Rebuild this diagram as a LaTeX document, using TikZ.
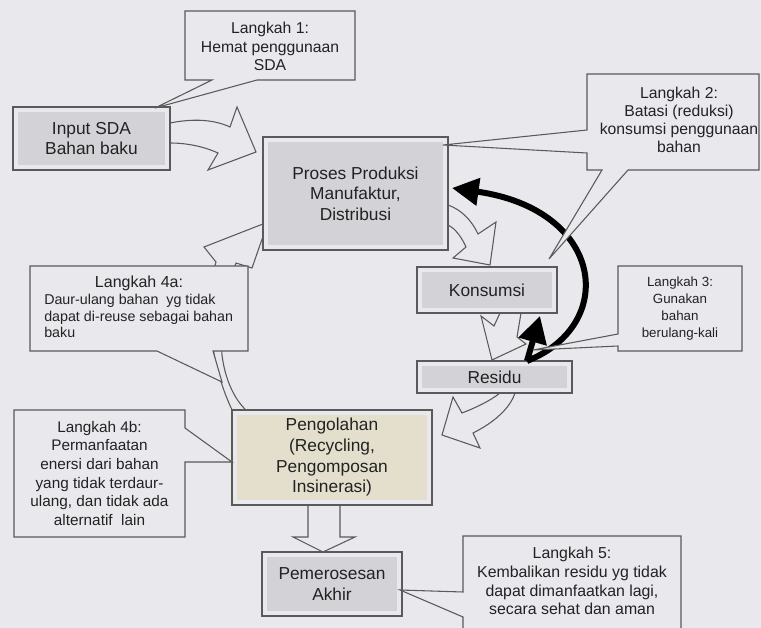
\documentclass[tikz,border=0pt]{standalone}
\usepackage{fontspec}
\setmainfont{Liberation Sans}
\usetikzlibrary{arrows.meta}
\definecolor{bg}{HTML}{E9E9ED}
\definecolor{edge}{HTML}{5A5A5A}
\definecolor{txt}{HTML}{222222}
\definecolor{boxin}{HTML}{D3D3D7}
\definecolor{pengin}{HTML}{E3DFCC}
\tikzset{
  mainbox/.style={draw=edge, line width=0.9pt, fill=bg, inner sep=0pt, align=center,
    text=txt, font=\fontsize{13}{15.5}\selectfont,
    path picture={\fill[#1] ([shift={(4pt,4pt)}]path picture bounding box.south west)
      rectangle ([shift={(-4pt,-4pt)}]path picture bounding box.north east);}},
  mainbox/.default=boxin,
  callout/.style={draw=edge, line width=0.8pt, fill=bg, line join=miter},
  ctext/.style={align=center, text=txt, inner sep=0pt},
  hollow/.style={draw=edge, line width=0.8pt, fill=bg, line join=miter},
  blackarrow/.style={line width=4.5pt, draw=black},
}
\begin{document}
\begin{tikzpicture}[x=0.75pt,y=-0.75pt]
\path[use as bounding box] (0,0) rectangle (761,628);
\clip (0,0) rectangle (761,628);
\fill[bg] (0,0) rectangle (761,628);

% hollow circular arrows
\draw[hollow] (170,123) .. controls (195,118) and (215,120) .. (230,127) -- (237,107) -- (256,152)
  -- (208,170) -- (218,153) .. controls (205,147) and (188,143) .. (170,143) -- cycle;
\draw[hollow] (448,205) .. controls (462,210) and (472,221) .. (478,234) -- (496,222) -- (490,265)
  -- (453,258) -- (466,247) .. controls (462,238) and (456,229) .. (448,225) -- cycle;
\draw[hollow] (500,313) -- (494,326) -- (481,316) -- (492,360) -- (526,344) -- (517,337) -- (521,313) -- cycle;
\draw[hollow] (500,393) .. controls (490,401) and (475,408) .. (462,413) -- (453,397) -- (442,435)
  -- (480,448) -- (473,433) .. controls (495,422) and (510,408) .. (515,393) -- cycle;
\draw[hollow] (233,412) .. controls (220,385) and (210,350) .. (210,310) .. controls (210,290) and (212,275) .. (216,262)
  -- (204,247) -- (268,222) -- (252,268) -- (236,263) .. controls (226,290) and (220,320) .. (222,355)
  .. controls (225,380) and (235,400) .. (246,410) -- cycle;
% block arrow down
\draw[hollow] (308,503) -- (308,537) -- (293,537) -- (323,552) -- (355,537) -- (340,537) -- (340,503);

% main boxes
\node[mainbox, minimum width=117.75pt, minimum height=47.25pt] (input) at (91.5,138.5) {Input SDA\\Bahan baku};
\node[mainbox, minimum width=138.75pt, minimum height=84.75pt] (proses) at (355.5,193.5) {Proses Produksi\\Manufaktur,\\Distribusi};
\node[mainbox, minimum width=105pt, minimum height=34.5pt] (konsumsi) at (487,290) {Konsumsi};
\node[mainbox, minimum width=116.25pt, minimum height=24pt] (residu) at (494.5,377) {Residu};
\node[mainbox=pengin, minimum width=150pt, minimum height=71.25pt] (pengolahan) at (332,457.5) {Pengolahan\\(Recycling,\\Pengomposan\\Insinerasi)};
\node[mainbox, minimum width=105pt, minimum height=48pt] (akhir) at (332,584) {Pemerosesan\\Akhir};

% black arrows
\coordinate (bstart) at (527,361);
\coordinate (btip) at (452,188);
\coordinate (ktip) at (540,316);
\draw[blackarrow, -{Triangle[length=20pt,width=20pt]}] (bstart) .. controls (618,325) and (605,210) .. (btip);
\draw[blackarrow, -{Triangle[length=20pt,width=21pt]}] (bstart) -- (ktip);

% callouts
\draw[callout] (185,11) -- (355,11) -- (355,80) -- (257,80) -- (155,108) -- (212,80) -- (185,80) -- cycle;
\draw[callout] (587,74) -- (759,74) -- (759,170) -- (628,170) -- (549,259) -- (602,170) -- (587,170)
  -- (587,153) -- (443,145) -- (587,130) -- cycle;
\draw[callout] (618,266) -- (742,266) -- (742,351) -- (618,351) -- (618,346) -- (533,350) -- (618,334) -- cycle;
\draw[callout] (30,266) -- (248,266) -- (248,351) -- (213,351) -- (222,382) -- (157,351) -- (30,351) -- cycle;
\draw[callout] (14,410) -- (185,410) -- (185,428) -- (232,462) -- (185,462) -- (185,537) -- (14,537) -- cycle;
\draw[callout] (463,536) -- (681,536) -- (681,640) -- (463,640) -- (463,617) -- (400,590) -- (463,592) -- cycle;

% callout texts
\node[ctext, font=\fontsize{11.8}{14}\selectfont] (t1) at (270,46.5) {Langkah 1:\\Hemat penggunaan\\SDA};
\node[ctext, font=\fontsize{11.8}{13.5}\selectfont] (t2) at (679,120) {Langkah 2:\\Batasi (reduksi)\\konsumsi penggunaan\\bahan};
\node[ctext, font=\fontsize{10}{12.75}\selectfont] (t3) at (680,309) {Langkah 3:\\Gunakan\\bahan\\berulang-kali};
\node[ctext, font=\fontsize{12}{14}\selectfont] (t4ah) at (139,283) {Langkah 4a:};
\node[ctext, anchor=west, align=left, font=\fontsize{10.7}{12.4}\selectfont] (t4ab) at (44,316) {Daur-ulang bahan\ \ yg tidak\\dapat di-reuse sebagai bahan\\baku};
\node[ctext, font=\fontsize{11.5}{14}\selectfont] (t4b) at (99.5,473.5) {Langkah 4b:\\Permanfaatan\\enersi dari bahan\\yang tidak terdaur-\\ulang, dan tidak ada\\alternatif\ \ lain};
\node[ctext, font=\fontsize{11.9}{14}\selectfont] (t5) at (572,581) {Langkah 5:\\Kembalikan residu yg tidak\\dapat dimanfaatkan lagi,\\secara sehat dan aman};
\end{tikzpicture}
\end{document}
